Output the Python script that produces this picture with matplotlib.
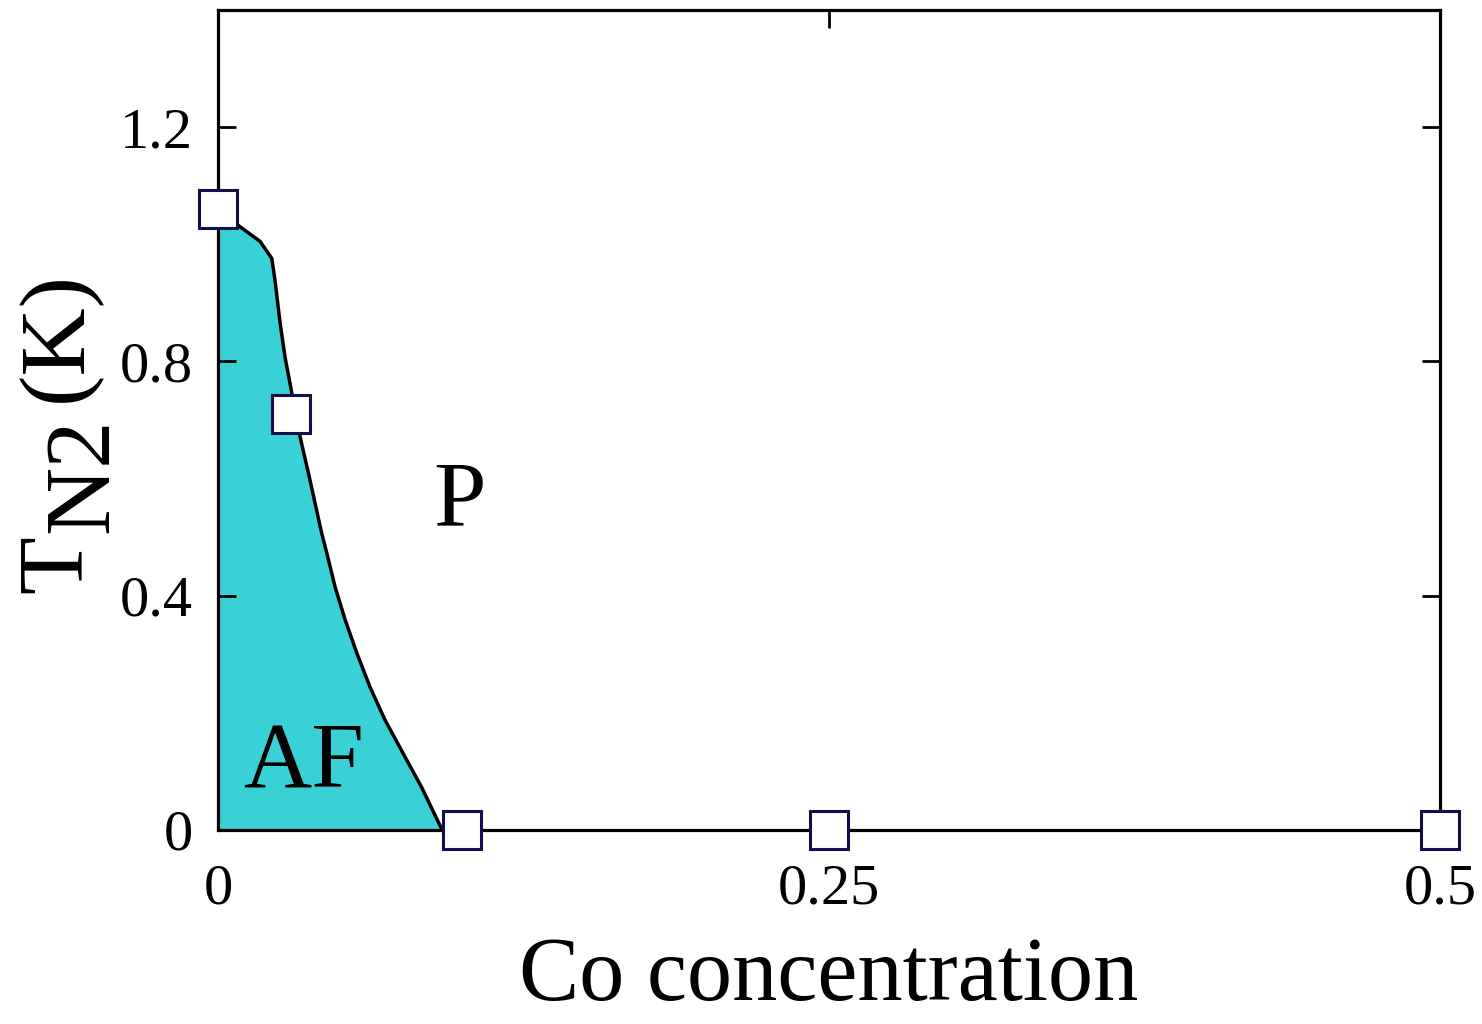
import matplotlib
matplotlib.use('Agg')
import matplotlib.pyplot as plt

# phase boundary
curve_x = [0.0, 0.0090, 0.0172, 0.0220, 0.0233, 0.0254, 0.0274, 0.0302, 0.0336, 0.0376,
           0.0424, 0.0445, 0.0479, 0.0520, 0.0568, 0.0622, 0.0683, 0.0757, 0.0833, 0.0917]
curve_y = [1.06, 1.03, 1.005, 0.976, 0.939, 0.866, 0.808, 0.746, 0.671, 0.598,
           0.507, 0.473, 0.415, 0.359, 0.302, 0.244, 0.188, 0.131, 0.073, 0.0]

# measured points
pts_x = [0.0, 0.03, 0.1, 0.25, 0.5]
pts_y = [1.06, 0.71, 0.0, 0.0, 0.0]

xticks = [0, 0.25, 0.5]
xtick_labels = ['0', '0.25', '0.5']
yticks = [0, 0.4, 0.8, 1.2]
ytick_labels = ['0', '0.4', '0.8', '1.2']

plt.rcParams['font.family'] = 'Liberation Serif'

fig = plt.figure(figsize=(14.82, 10.24), dpi=100)
ax = fig.add_axes([0.1471, 0.1895, 0.8246, 0.8007])

# filled AF region
poly_x = [0.0] + curve_x
poly_y = [0.0] + curve_y
ax.fill(poly_x, poly_y, color='#3AD1D6', lw=0, zorder=1)
ax.plot(curve_x, curve_y, color='black', lw=2.5, zorder=2, solid_joinstyle='round')

ax.plot(pts_x, pts_y, ls='none', marker='s', ms=27, mfc='white', mec='#10104a', mew=2.2,
        clip_on=False, zorder=5)

ax.set_xlim(0, 0.5)
ax.set_ylim(0, 1.4)
ax.set_xticks(xticks)
ax.set_xticklabels(xtick_labels)
ax.set_yticks(yticks)
ax.set_yticklabels(ytick_labels)
ax.tick_params(direction='in', length=13, width=2, labelsize=42, top=True, right=True)
ax.tick_params(axis='x', pad=24)
ax.tick_params(axis='y', pad=18)
for s in ax.spines.values():
    s.set_linewidth(2.3)

ax.text(0.088, 0.52, 'P', fontsize=68, ha='left', va='baseline')
ax.text(0.0102, 0.073, 'AF', fontsize=68, ha='left', va='baseline')

ax.set_xlabel('Co concentration', fontsize=65, labelpad=15)

# y label: T with a full-size, lowered "N2"
fig.canvas.draw()
r = fig.canvas.get_renderer()
W, H = fig.bbox.width, fig.bbox.height
t1 = fig.text(81 / W, (1024 - 593) / H, 'T', fontsize=68, rotation=90,
              rotation_mode='anchor', ha='left', va='baseline')
bb = t1.get_window_extent(r)
t2 = fig.text(107 / W, (bb.y1 + 2) / H, 'N2', fontsize=68, rotation=90,
              rotation_mode='anchor', ha='left', va='baseline')
bb2 = t2.get_window_extent(r)
fig.text(81 / W, (bb2.y1 + 16) / H, '(K)', fontsize=68, rotation=90,
         rotation_mode='anchor', ha='left', va='baseline')

fig.savefig('out.png', dpi=100)
